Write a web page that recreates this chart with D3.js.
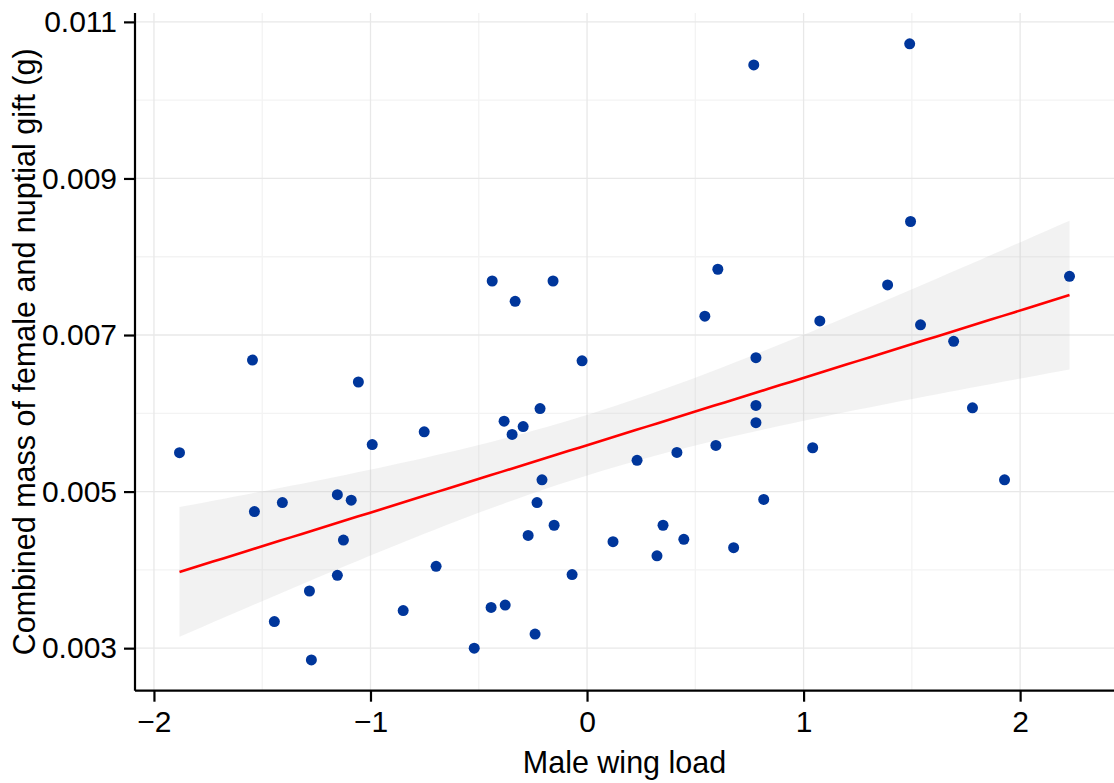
<!DOCTYPE html>
<html>
<head>
<meta charset="utf-8">
<script src="https://cdn.jsdelivr.net/npm/d3@7"></script>
<style>
  html, body { margin: 0; padding: 0; background: #fff; }
  svg { display: block; }
  text { font-family: "Liberation Sans", Arial, Helvetica, sans-serif; fill: #000; }
</style>
</head>
<body>
<svg id="chart" width="1114" height="783"></svg>
<script>
// ---- data ----
const wingLoad = [
  -1.882, -1.545, -1.536, -1.407, -1.444, -1.282, -1.273, -1.153, -1.125, -1.153,
  -1.089, -1.056, -0.992, -0.849, -0.752, -0.697, -0.521, -0.443, -0.438, -0.378,
  -0.383, -0.346, -0.332, -0.295, -0.272, -0.240, -0.231, -0.217, -0.208, -0.157,
  -0.152, -0.069, -0.023, 0.120, 0.231, 0.323, 0.351, 0.415, 0.447, 0.544,
  0.677, 0.595, 0.604, 0.770, 0.780, 0.780, 0.780, 0.816, 1.042, 1.075,
  1.388, 1.490, 1.494, 1.540, 1.693, 1.780, 1.928, 2.228
];
const combinedMass = [
  0.005497, 0.00668, 0.004745, 0.00486, 0.00334, 0.00373, 0.00285, 0.00496, 0.00438, 0.00393,
  0.00489, 0.00640, 0.00560, 0.00348, 0.005764, 0.004045, 0.00300, 0.00352, 0.00769, 0.00355,
  0.00590, 0.00573, 0.00743, 0.00583, 0.00444, 0.00318, 0.00486, 0.00606, 0.00515, 0.00769,
  0.00457, 0.00394, 0.00667, 0.00436, 0.00540, 0.00418, 0.00457, 0.00550, 0.00439, 0.00724,
  0.004283, 0.00559, 0.00784, 0.01045, 0.00671, 0.00610, 0.00588, 0.00490, 0.00556, 0.00718,
  0.00764, 0.01072, 0.00845, 0.00713, 0.00692, 0.00607, 0.00515, 0.00775
];
const xTicks = [-2, -1, 0, 1, 2];
const yTicks = [0.003, 0.005, 0.007, 0.009, 0.011];
const xMinorTicks = [-1.5, -0.5, 0.5, 1.5];
const yMinorTicks = [0.004, 0.006, 0.008, 0.010];
const xTitle = "Male wing load";
const yTitle = "Combined mass of female and nuptial gift (g)";

// ---- layout ----
const svg = d3.select("#chart");
const panel = { left: 135, right: 1114, top: 13, bottom: 690.7 };

const expand = (ext) => { const d = ext[1] - ext[0]; return [ext[0] - 0.05 * d, ext[1] + 0.05 * d]; };
const x = d3.scaleLinear().domain(expand(d3.extent(wingLoad))).range([panel.left, panel.right]);
const y = d3.scaleLinear().domain(expand(d3.extent(combinedMass))).range([panel.bottom, panel.top]);

// ---- gridlines ----
const grid = svg.append("g");
grid.selectAll("line.xminor").data(xMinorTicks).join("line")
  .attr("x1", d => x(d)).attr("x2", d => x(d)).attr("y1", panel.top).attr("y2", panel.bottom)
  .attr("stroke", "#f3f3f3").attr("stroke-width", 1.3);
grid.selectAll("line.yminor").data(yMinorTicks).join("line")
  .attr("y1", d => y(d)).attr("y2", d => y(d)).attr("x1", panel.left).attr("x2", panel.right)
  .attr("stroke", "#f3f3f3").attr("stroke-width", 1.3);
grid.selectAll("line.xmajor").data(xTicks).join("line")
  .attr("x1", d => x(d)).attr("x2", d => x(d)).attr("y1", panel.top).attr("y2", panel.bottom)
  .attr("stroke", "#e8e8e8").attr("stroke-width", 1.3);
grid.selectAll("line.ymajor").data(yTicks).join("line")
  .attr("y1", d => y(d)).attr("y2", d => y(d)).attr("x1", panel.left).attr("x2", panel.right)
  .attr("stroke", "#e8e8e8").attr("stroke-width", 1.3);

// ---- linear regression with 95% confidence band ----
const n = wingLoad.length;
const xbar = d3.mean(wingLoad), ybar = d3.mean(combinedMass);
let sxx = 0, sxy = 0;
for (let i = 0; i < n; i++) { sxx += (wingLoad[i] - xbar) ** 2; sxy += (wingLoad[i] - xbar) * (combinedMass[i] - ybar); }
const slope = sxy / sxx, intercept = ybar - slope * xbar;
let sse = 0;
for (let i = 0; i < n; i++) sse += (combinedMass[i] - (intercept + slope * wingLoad[i])) ** 2;
const sRes = Math.sqrt(sse / (n - 2));
const tCrit = 2.0032; // t(0.975, df = 56)
const [xLo, xHi] = d3.extent(wingLoad);
const fitPts = d3.range(81).map(i => {
  const xv = xLo + (xHi - xLo) * i / 80;
  const fit = intercept + slope * xv;
  const se = sRes * Math.sqrt(1 / n + (xv - xbar) ** 2 / sxx);
  return { x: xv, fit, lo: fit - tCrit * se, hi: fit + tCrit * se };
});

svg.append("path").datum(fitPts)
  .attr("d", d3.area().x(d => x(d.x)).y0(d => y(d.lo)).y1(d => y(d.hi)))
  .attr("fill", "#b8b8b8").attr("fill-opacity", 0.18);

// ---- points ----
svg.append("g").selectAll("circle").data(wingLoad.map((v, i) => [v, combinedMass[i]])).join("circle")
  .attr("cx", d => x(d[0])).attr("cy", d => y(d[1])).attr("r", 5.5)
  .attr("fill", "#00369b");

// ---- regression line ----
svg.append("path").datum(fitPts)
  .attr("d", d3.line().x(d => x(d.x)).y(d => y(d.fit)))
  .attr("fill", "none").attr("stroke", "#ff0000").attr("stroke-width", 2.6);

// ---- axes ----
const xAxis = svg.append("g").attr("transform", `translate(0,${panel.bottom})`)
  .call(d3.axisBottom(x).tickValues(xTicks).tickSize(11).tickPadding(9).tickFormat(d3.format("d")));
xAxis.select(".domain").attr("d", `M${panel.left},0H${panel.right}`).attr("stroke", "#000").attr("stroke-width", 2.2);
xAxis.selectAll(".tick line").attr("stroke", "#000").attr("stroke-width", 2.2);
xAxis.selectAll(".tick text").attr("font-size", 30).attr("font-family", "Liberation Sans, Arial, sans-serif");

const yAxis = svg.append("g").attr("transform", `translate(${panel.left},0)`)
  .call(d3.axisLeft(y).tickValues(yTicks).tickSize(11).tickPadding(7).tickFormat(d3.format(".3f")));
yAxis.select(".domain").attr("d", `M0,${panel.top}V${panel.bottom}`).attr("stroke", "#000").attr("stroke-width", 2.2);
yAxis.selectAll(".tick line").attr("stroke", "#000").attr("stroke-width", 2.2);
yAxis.selectAll(".tick text").attr("font-size", 30).attr("font-family", "Liberation Sans, Arial, sans-serif");

// ---- titles ----
svg.append("text").attr("x", (panel.left + panel.right) / 2).attr("y", 773)
  .attr("text-anchor", "middle").attr("font-size", 30.5).text(xTitle);
svg.append("text").attr("transform", `translate(35,${(panel.top + panel.bottom) / 2}) rotate(-90)`)
  .attr("text-anchor", "middle").attr("font-size", 30.5).text(yTitle);
</script>
</body>
</html>
